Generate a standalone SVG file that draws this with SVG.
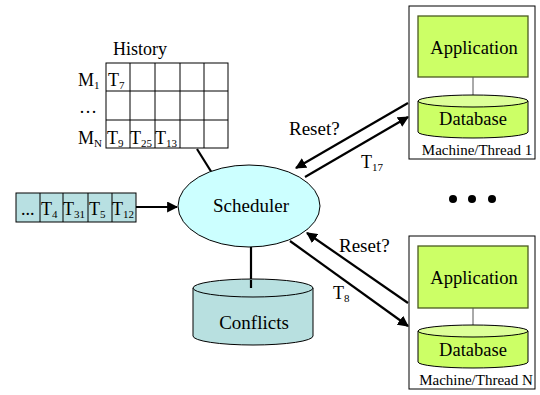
<svg xmlns="http://www.w3.org/2000/svg" width="540" height="395" viewBox="0 0 540 395" font-family="'Times New Roman', 'Liberation Serif', Times, 'Noto Serif', serif">
<defs>
<style>
text{font-family:'Times New Roman','Liberation Serif',Times,'Noto Serif',serif;fill:#000}
.t18{font-size:18px}
.t19{font-size:19px}
.tapp{font-size:18.5px}
.sub{font-size:11px}
.small{font-size:15px}
.grid{fill:#fff;stroke:#000;stroke-width:1}
.q{fill:#b8e0e2;stroke:#000;stroke-width:1}
.app{fill:#ccff66;stroke:#4a5a20;stroke-width:1.3}
.dbtop{fill:#ddff99;stroke:#000;stroke-width:1}
.box{fill:#fff;stroke:#000;stroke-width:1}
.conn{stroke:#000;stroke-width:2.2;fill:none}
</style>
<marker id="ah" viewBox="0 0 10 10" refX="9" refY="5" markerWidth="5" markerHeight="5" orient="auto" markerUnits="strokeWidth">
<path d="M0,0 L10,5 L0,10 z" fill="#000"/>
</marker>
</defs>

<g id="connectors">
<line class="conn" x1="197" y1="149" x2="212" y2="173"/>
<line class="conn" x1="136" y1="207" x2="177" y2="207" marker-end="url(#ah)"/>
<line class="conn" x1="251" y1="247" x2="251" y2="288"/>
<line class="conn" x1="408" y1="103" x2="296" y2="168" marker-end="url(#ah)"/>
<line class="conn" x1="305" y1="177" x2="408" y2="117" marker-end="url(#ah)"/>
<line class="conn" x1="408" y1="303" x2="307" y2="233" marker-end="url(#ah)"/>
<line class="conn" x1="290" y1="241" x2="408" y2="326" marker-end="url(#ah)"/>
</g>

<g id="history">
<text class="t18" x="140" y="55" text-anchor="middle">History</text>
<rect class="grid" x="106" y="63" width="122" height="85"/>
<path d="M130,63V148M155,63V148M180,63V148M204,63V148M106,91H228M106,120H228" stroke="#000" stroke-width="1" fill="none"/>
<text class="t18" x="78" y="86">M<tspan class="sub" dy="3">1</tspan></text>
<text class="t18" x="79" y="113">…</text>
<text class="t18" x="78" y="144">M<tspan class="sub" dy="3">N</tspan></text>
<text class="t18" x="108" y="86">T<tspan class="sub" dy="3">7</tspan></text>
<text class="t18" x="107" y="144">T<tspan class="sub" dy="3">9</tspan></text>
<text class="t18" x="130" y="144">T<tspan class="sub" dy="3">25</tspan></text>
<text class="t18" x="155" y="144">T<tspan class="sub" dy="3">13</tspan></text>
</g>

<g id="queue">
<rect class="q" x="16" y="193" width="120" height="29"/>
<path d="M40,193V222M63,193V222M88,193V222M112,193V222" stroke="#000" stroke-width="1"/>
<text class="t18" x="21" y="215">...</text>
<text class="t18" x="41" y="215">T<tspan class="sub" dy="3">4</tspan></text>
<text class="t18" x="63" y="215">T<tspan class="sub" dy="3">31</tspan></text>
<text class="t18" x="89" y="215">T<tspan class="sub" dy="3">5</tspan></text>
<text class="t18" x="112" y="215">T<tspan class="sub" dy="3">12</tspan></text>
</g>

<g id="scheduler">
<ellipse cx="249" cy="206" rx="71" ry="41" fill="#ccffff" stroke="#000" stroke-width="1"/>
<text class="t19" x="251" y="212" text-anchor="middle">Scheduler</text>
</g>

<g id="conflicts">
<path d="M193,288 V336 A60,9 0 0 0 313,336 V288" fill="#b8e0e0" stroke="#000" stroke-width="1"/>
<ellipse cx="253" cy="288" rx="60" ry="9" fill="#b8e0e0" stroke="#000" stroke-width="1"/>
<line class="conn" x1="251" y1="280" x2="251" y2="288"/>
<text class="t19" x="254" y="329" text-anchor="middle">Conflicts</text>
</g>

<g id="machine1">
<rect class="box" x="409" y="6" width="126" height="153"/>
<rect class="app" x="418" y="16" width="110" height="61"/>
<text class="tapp" x="474" y="54" text-anchor="middle">Application</text>
<line x1="473" y1="77" x2="473" y2="96" stroke="#555" stroke-width="1"/>
<path d="M418,101 V132 A55,6 0 0 0 528,132 V101" fill="#ccff66" stroke="#000" stroke-width="1"/>
<ellipse class="dbtop" cx="473" cy="101" rx="55" ry="6"/>
<text class="tapp" x="473" y="125" text-anchor="middle">Database</text>
<text class="small" x="477" y="155" text-anchor="middle">Machine/Thread 1</text>
</g>

<g id="dots">
<circle cx="453" cy="199" r="4"/>
<circle cx="472" cy="199" r="4"/>
<circle cx="492" cy="199" r="4"/>
</g>

<g id="machineN">
<rect class="box" x="409" y="236" width="126" height="153"/>
<rect class="app" x="418" y="246" width="110" height="62"/>
<text class="tapp" x="474" y="284" text-anchor="middle">Application</text>
<line x1="473" y1="308" x2="473" y2="326" stroke="#555" stroke-width="1"/>
<path d="M418,331 V362 A55,6 0 0 0 528,362 V331" fill="#ccff66" stroke="#000" stroke-width="1"/>
<ellipse class="dbtop" cx="473" cy="331" rx="55" ry="6"/>
<text class="tapp" x="473" y="356" text-anchor="middle">Database</text>
<text class="small" x="476" y="385" text-anchor="middle">Machine/Thread N</text>
</g>

<g id="labels">
<text class="t19" x="289" y="135">Reset?</text>
<text class="t18" x="361" y="168">T<tspan class="sub" dy="3">17</tspan></text>
<text class="t19" x="339" y="252">Reset?</text>
<text class="t18" x="333" y="299">T<tspan class="sub" dy="3">8</tspan></text>
</g>
</svg>
